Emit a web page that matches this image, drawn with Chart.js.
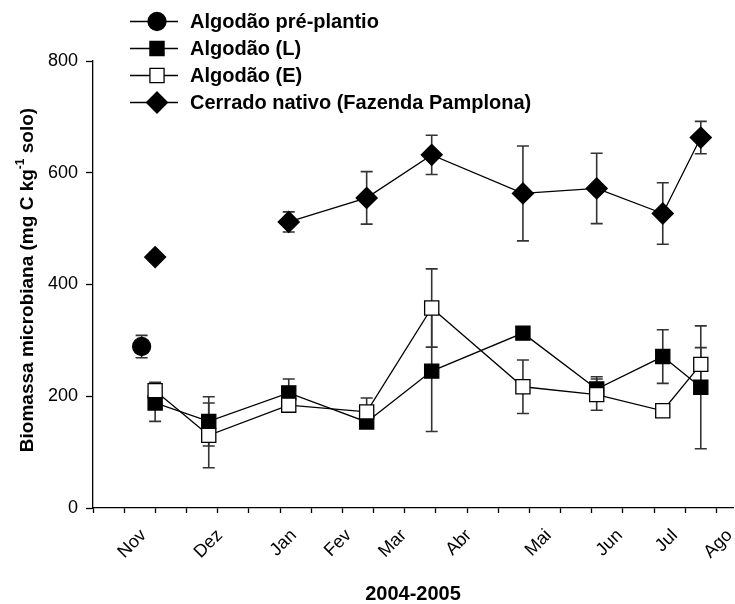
<!DOCTYPE html>
<html><head><meta charset="utf-8">
<script src="https://cdn.jsdelivr.net/npm/chart.js@4/dist/chart.umd.min.js"></script>
<style>html,body{margin:0;padding:0;background:#fff}#wrap{width:735px;height:604px}</style>
</head><body><div id="wrap"><canvas id="c" width="735" height="604"></canvas></div>
<script>
// ---- data (x in days, ticks every 15 days) ----
const monthLabels   = ['Nov','Dez','Jan','Fev','Mar','Abr','Mai','Jun','Jul','Ago'];
const monthLabelDay = [24.4, 61.0, 96.6, 123.0, 149.5, 180.8, 219.3, 253.5, 280, 306.4];
const minorTickDays = [0,15,30,45,60,75,90,105,120,135,150,165,180,195,210,225,240,255,270,285,300];
const yTicks = [0, 200, 400, 600, 800];

const prePlantioDay = [23.4];
const prePlantio    = [289];
const prePlantioErr = [20];

const sampleDay   = [29.9, 55.7, 94.2, 131.7, 163, 206.9, 242.4, 274.2, 292.5];
const algodaoL    = [188, 155, 206, 154, 245, 313, 213, 271, 216];
const algodaoLErr = [33, 44, 25, 8, 108, 10, 22, 48, 110];
const algodaoE    = [210, 130, 184, 172, 358, 217, 203, 174, 257];
const algodaoEErr = [15, 58, 10, 25, 70, 48, 28, 5, 30];
const cerrado     = [449, null, 512, 555, 632, 563, 572, 527, 663];
const cerradoErr  = [8, null, 18, 47, 35, 85, 63, 55, 29];

const FONT = "'Liberation Sans', Arial, sans-serif";

function pts(xs, ys, es) { return xs.map((x, i) => ({ x: x, y: ys[i], e: es[i] })); }

const errorBars = {
  id: 'errorBars',
  beforeDatasetsDraw(chart) {
    const ctx = chart.ctx, xs = chart.scales.x, ys = chart.scales.y;
    ctx.save();
    ctx.strokeStyle = '#333';
    ctx.lineWidth = 1.6;
    chart.data.datasets.forEach(ds => {
      ds.data.forEach(p => {
        if (p.y == null || p.e == null) return;
        const px = xs.getPixelForValue(p.x);
        const top = ys.getPixelForValue(p.y + p.e);
        const bot = ys.getPixelForValue(p.y - p.e);
        ctx.beginPath();
        ctx.moveTo(px, top); ctx.lineTo(px, bot);
        ctx.moveTo(px - 6, top); ctx.lineTo(px + 6, top);
        ctx.moveTo(px - 6, bot); ctx.lineTo(px + 6, bot);
        ctx.stroke();
      });
    });
    ctx.restore();
  }
};

const customLegend = {
  id: 'customLegend',
  afterDraw(chart) {
    const ctx = chart.ctx;
    const order = [3, 1, 0, 2];
    const rowsY = [21.5, 48.5, 75.5, 102.5];
    ctx.save();
    order.forEach((di, r) => {
      const ds = chart.data.datasets[di];
      const y = rowsY[r];
      ctx.strokeStyle = '#000'; ctx.lineWidth = 1.3;
      ctx.beginPath(); ctx.moveTo(130, y); ctx.lineTo(178, y); ctx.stroke();
      ctx.fillStyle = ds.pointBackgroundColor; ctx.strokeStyle = '#000'; ctx.lineWidth = ds.pointBorderWidth;
      Chart.helpers.drawPoint(ctx, { pointStyle: ds.pointStyle, radius: ds.pointRadius, borderWidth: ds.pointBorderWidth, rotation: 0 }, 157, y);
      ctx.fillStyle = '#000';
      ctx.font = 'bold 20px ' + FONT;
      ctx.textBaseline = 'middle'; ctx.textAlign = 'left';
      ctx.fillText(ds.label, 190, y + 1);
    });
    ctx.restore();
  }
};

const yTitle = {
  id: 'yTitle',
  afterDraw(chart) {
    const ctx = chart.ctx;
    const a = 'Biomassa microbiana (mg C kg', sup = '-1', b = ' solo)';
    const big = 'bold 19px ' + FONT, small = 'bold 12px ' + FONT;
    ctx.save();
    ctx.font = big; const wa = ctx.measureText(a).width, wb = ctx.measureText(b).width;
    ctx.font = small; const ws = ctx.measureText(sup).width;
    const total = wa + ws + wb;
    ctx.translate(28, 280);
    ctx.rotate(-Math.PI / 2);
    ctx.fillStyle = '#000'; ctx.textBaseline = 'middle'; ctx.textAlign = 'left';
    let x = -total / 2;
    ctx.font = big; ctx.fillText(a, x, 0); x += wa;
    ctx.font = small; ctx.fillText(sup, x, -7); x += ws;
    ctx.font = big; ctx.fillText(b, x, 0);
    ctx.restore();
  }
};

new Chart(document.getElementById('c').getContext('2d'), {
  type: 'line',
  data: {
    datasets: [
      { label: 'Algodão (E)', data: pts(sampleDay, algodaoE, algodaoEErr), order: 0,
        borderColor: '#000', borderWidth: 1.3, tension: 0,
        pointStyle: 'rect', pointRadius: 10, pointBackgroundColor: '#fff', pointBorderColor: '#000', pointBorderWidth: 1.3 },
      { label: 'Algodão (L)', data: pts(sampleDay, algodaoL, algodaoLErr), order: 1,
        borderColor: '#000', borderWidth: 1.3, tension: 0,
        pointStyle: 'rect', pointRadius: 10, pointBackgroundColor: '#000', pointBorderColor: '#000', pointBorderWidth: 1.3 },
      { label: 'Cerrado nativo (Fazenda Pamplona)', data: pts(sampleDay, cerrado, cerradoErr), order: 2,
        borderColor: '#000', borderWidth: 1.3, tension: 0, spanGaps: false,
        pointStyle: 'rectRot', pointRadius: 10.5, pointBackgroundColor: '#000', pointBorderColor: '#000', pointBorderWidth: 1.3 },
      { label: 'Algodão pré-plantio', data: pts(prePlantioDay, prePlantio, prePlantioErr), order: 3,
        borderColor: '#000', borderWidth: 1.3, showLine: false,
        pointStyle: 'circle', pointRadius: 9, pointBackgroundColor: '#000', pointBorderColor: '#000', pointBorderWidth: 1.3 }
    ]
  },
  options: {
    responsive: false, animation: false, devicePixelRatio: 1,
    layout: { autoPadding: false, padding: { left: 0, top: 61, right: 2, bottom: 0 } },
    plugins: { legend: { display: false }, tooltip: { enabled: false } },
    scales: {
      x: {
        type: 'linear', min: 0, max: 308,
        afterBuildTicks: s => { s.ticks = minorTickDays.map(v => ({ value: v })).concat(monthLabelDay.map(v => ({ value: v }))); },
        ticks: {
          autoSkip: false, maxRotation: 45, minRotation: 45, color: '#000', padding: 12,
          font: { family: FONT, size: 18 },
          callback: (v, i) => i >= minorTickDays.length ? monthLabels[i - minorTickDays.length] : ''
        },
        grid: { drawOnChartArea: false, drawTicks: true, tickLength: 5,
          tickColor: c => c.index < minorTickDays.length ? '#000' : 'rgba(0,0,0,0)', tickWidth: 1.3 },
        border: { display: true, color: '#000', width: 1.3 },
        title: { display: true, text: '2004-2005', color: '#000', font: { family: FONT, size: 20, weight: 'bold' }, padding: { top: 0, bottom: -2 } },
        afterFit: s => { s.height = 96; s.paddingLeft = 0; s.paddingRight = 0; }
      },
      y: {
        min: 0, max: 800,
        afterBuildTicks: s => { s.ticks = yTicks.map(v => ({ value: v })); },
        ticks: { color: '#000', padding: 8, font: { family: FONT, size: 18 } },
        grid: { drawOnChartArea: false, drawTicks: true, tickLength: 7, tickColor: '#000', tickWidth: 1.3 },
        border: { display: true, color: '#000', width: 1.3 },
        afterFit: s => { s.width = 93; }
      }
    }
  },
  plugins: [errorBars, customLegend, yTitle]
});
</script></body></html>
